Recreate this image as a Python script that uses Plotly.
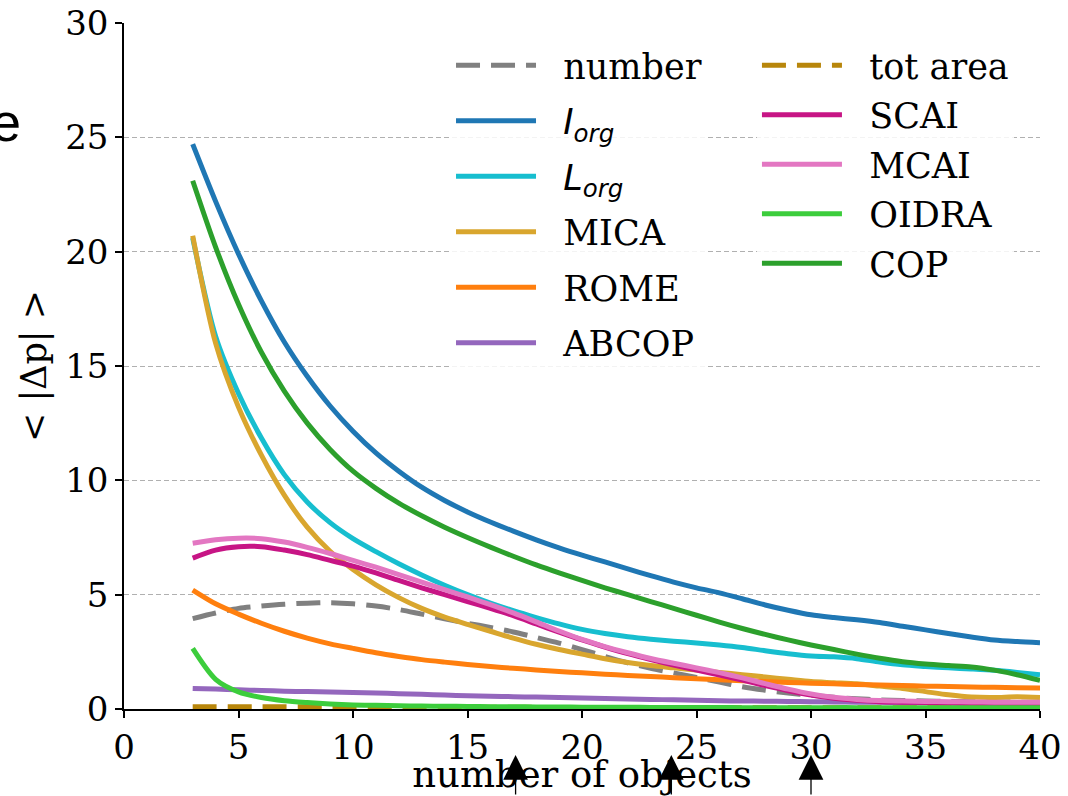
import plotly.graph_objects as go

x_objects = list(range(3, 41))

number = [3.95, 4.2, 4.4, 4.5, 4.58, 4.63, 4.65, 4.6, 4.5, 4.35, 4.15, 3.95, 3.75, 3.57, 3.37, 3.13,
          2.88, 2.6, 2.3, 2.02, 1.78, 1.58, 1.38, 1.18, 0.97, 0.82, 0.7, 0.6, 0.51, 0.45, 0.4, 0.37,
          0.35, 0.33, 0.32, 0.31, 0.3, 0.3]
i_org = [24.7, 22.2, 19.9, 17.85, 16.05, 14.55, 13.25, 12.15, 11.2, 10.4, 9.7, 9.12, 8.62, 8.18,
         7.78, 7.4, 7.05, 6.73, 6.43, 6.13, 5.83, 5.55, 5.3, 5.08, 4.82, 4.55, 4.32, 4.12, 4.0,
         3.9, 3.78, 3.62, 3.46, 3.3, 3.15, 3.02, 2.95, 2.9]
l_org = [20.6, 16.3, 13.8, 11.85, 10.25, 9.05, 8.15, 7.45, 6.88, 6.35, 5.86, 5.41, 5.0, 4.63,
         4.3, 4.0, 3.72, 3.48, 3.3, 3.16, 3.05, 2.96, 2.89, 2.8, 2.69, 2.55, 2.42, 2.32, 2.28,
         2.2, 2.05, 1.93, 1.86, 1.8, 1.75, 1.69, 1.6, 1.5]
mica = [20.7, 16.0, 13.2, 11.1, 9.35, 7.95, 6.9, 6.1, 5.43, 4.87, 4.4, 4.02, 3.7, 3.4, 3.1, 2.83,
        2.6, 2.4, 2.2, 2.03, 1.9, 1.8, 1.7, 1.6, 1.5, 1.4, 1.3, 1.2, 1.15, 1.1, 1.0, 0.9, 0.76,
        0.62, 0.52, 0.5, 0.54, 0.5]
rome = [5.2, 4.6, 4.15, 3.75, 3.4, 3.1, 2.85, 2.65, 2.46, 2.3, 2.16, 2.05, 1.95, 1.86, 1.78, 1.71,
        1.64, 1.58, 1.52, 1.47, 1.42, 1.37, 1.32, 1.28, 1.24, 1.2, 1.16, 1.13, 1.1, 1.07, 1.05,
        1.03, 1.0, 0.98, 0.96, 0.95, 0.93, 0.92]
abcop = [0.9, 0.87, 0.84, 0.81, 0.78, 0.76, 0.74, 0.72, 0.7, 0.67, 0.64, 0.61, 0.58, 0.56, 0.54,
         0.52, 0.5, 0.48, 0.46, 0.44, 0.42, 0.4, 0.38, 0.36, 0.35, 0.34, 0.33, 0.32, 0.31, 0.3,
         0.29, 0.28, 0.27, 0.26, 0.25, 0.24, 0.23, 0.22]
tot_area = [0.1, 0.1, 0.1, 0.1, 0.1, 0.1, 0.1, 0.1, 0.09, 0.09, 0.09, 0.08, 0.08, 0.08, 0.08, 0.07,
            0.07, 0.07, 0.07, 0.06, 0.06, 0.06, 0.06, 0.06, 0.05, 0.05, 0.05, 0.05, 0.05, 0.05,
            0.05, 0.05, 0.05, 0.05, 0.05, 0.05, 0.05, 0.05]
scai = [6.6, 6.95, 7.1, 7.1, 6.95, 6.75, 6.5, 6.25, 5.95, 5.62, 5.3, 5.0, 4.7, 4.4, 4.08, 3.72,
        3.36, 3.02, 2.71, 2.42, 2.16, 1.92, 1.7, 1.49, 1.26, 1.02, 0.8, 0.61, 0.47, 0.38, 0.32,
        0.3, 0.28, 0.26, 0.25, 0.25, 0.25, 0.25]
mcai = [7.25, 7.4, 7.47, 7.45, 7.3, 7.07, 6.8, 6.5, 6.2, 5.88, 5.55, 5.22, 4.9, 4.56, 4.2, 3.81,
        3.41, 3.04, 2.73, 2.46, 2.21, 2.0, 1.8, 1.59, 1.36, 1.11, 0.87, 0.66, 0.51, 0.42, 0.37,
        0.35, 0.33, 0.32, 0.31, 0.3, 0.3, 0.3]
oidra = [2.65, 1.3, 0.75, 0.5, 0.36, 0.28, 0.22, 0.18, 0.16, 0.14, 0.13, 0.12, 0.11, 0.1, 0.1,
         0.09, 0.09, 0.08, 0.08, 0.08, 0.07, 0.07, 0.07, 0.07, 0.06, 0.06, 0.06, 0.06, 0.06, 0.06,
         0.05, 0.05, 0.05, 0.05, 0.05, 0.05, 0.05, 0.05]
cop = [23.1, 20.2, 17.7, 15.6, 13.9, 12.5, 11.35, 10.4, 9.65, 9.0, 8.45, 7.95, 7.5, 7.08, 6.68,
       6.3, 5.95, 5.62, 5.3, 5.0, 4.7, 4.4, 4.1, 3.8, 3.52, 3.26, 3.02, 2.8, 2.6, 2.4, 2.22, 2.07,
       1.97, 1.9, 1.84, 1.7, 1.5, 1.25]

arrow_x = [17.1, 23.9, 30.0]
x_ticks = [0, 5, 10, 15, 20, 25, 30, 35, 40]
y_ticks = [0, 5, 10, 15, 20, 25, 30]

SERIF = "DejaVu Serif"
NB = "\u00a0\u00a0"
isans = NB + "<span style='font-family:DejaVu Sans'><i>{}</i><sub><i>org</i></sub></span>"

series = [
    (NB + "number", number, "#808080", "dash", "legend"),
    (isans.format("I"), i_org, "#1f77b4", "solid", "legend"),
    (isans.format("L"), l_org, "#17becf", "solid", "legend"),
    (NB + "MICA", mica, "#d9a62e", "solid", "legend"),
    (NB + "ROME", rome, "#ff7f0e", "solid", "legend"),
    (NB + "ABCOP", abcop, "#9467bd", "solid", "legend"),
    (NB + "tot area", tot_area, "#b8860b", "dash", "legend2"),
    (NB + "SCAI", scai, "#c71585", "solid", "legend2"),
    (NB + "MCAI", mcai, "#e377c2", "solid", "legend2"),
    (NB + "OIDRA", oidra, "#3ccd3c", "solid", "legend2"),
    (NB + "COP", cop, "#2ca02c", "solid", "legend2"),
]

fig = go.Figure()
for i, (name, vals, color, dash, leg) in enumerate(series):
    fig.add_trace(go.Scatter(
        x=x_objects, y=vals, mode="lines", name=name,
        line=dict(color=color, width=5, dash="24px,11px" if dash == "dash" else "solid",
                  shape="spline", smoothing=0.8),
        legend=leg, legendgroup=f"g{i}",
    ))

for ax in arrow_x:
    fig.add_annotation(x=ax, xref="x", y=-0.067, yref="paper", text="", showarrow=True,
                       ax=0, ay=60, arrowhead=2, arrowsize=3.8, arrowwidth=1.3,
                       arrowcolor="black", standoff=0)

fig.add_annotation(x=-0.11, xref="paper", y=0.856, yref="paper", text="e", showarrow=False,
                   xanchor="right", yanchor="middle",
                   font=dict(family="Liberation Sans", size=54, color="black"))

fig.update_layout(
    width=1068, height=796, autosize=False,
    margin=dict(l=124, r=28, t=23, b=87),
    paper_bgcolor="white", plot_bgcolor="white",
    font=dict(family=SERIF, size=34, color="black"),
    xaxis=dict(range=[0, 40], tickvals=x_ticks, showgrid=False, zeroline=False, automargin=False,
               showline=True, linecolor="black", linewidth=1.5, ticks="outside",
               ticklen=7, tickwidth=1.5, tickcolor="black",
               tickfont=dict(family=SERIF, size=34),
               title=dict(text="number of objects", font=dict(family=SERIF, size=37), standoff=4)),
    yaxis=dict(range=[0, 30], tickvals=y_ticks, showgrid=True, gridcolor="#b0b0b0",
               gridwidth=1, griddash="5px,3px", zeroline=False, automargin=False,
               showline=True, linecolor="black", linewidth=1.5, ticks="outside",
               ticklen=7, tickwidth=1.5, tickcolor="black",
               tickfont=dict(family=SERIF, size=34),
               title=dict(text="< |Δp| >", font=dict(family=SERIF, size=35), standoff=8)),
    legend=dict(x=0.357, y=0.981, xanchor="left", yanchor="top", bgcolor="rgba(255,255,255,0.85)",
                font=dict(family=SERIF, size=35), itemwidth=80, tracegroupgap=7,
                borderwidth=0),
    legend2=dict(x=0.691, y=0.981, xanchor="left", yanchor="top", bgcolor="rgba(255,255,255,0.85)",
                 font=dict(family=SERIF, size=35), itemwidth=80, tracegroupgap=1,
                 borderwidth=0),
    showlegend=True,
)

fig.write_html("out.html")
